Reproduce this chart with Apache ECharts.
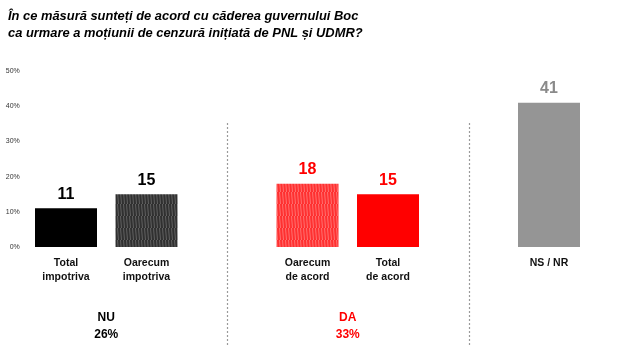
<!DOCTYPE html>
<html>
<head>
<meta charset="utf-8">
<script src="https://cdn.jsdelivr.net/npm/echarts@6/dist/echarts.min.js"></script>
<style>
  html, body { margin: 0; padding: 0; background: #fff; }
  #chart { width: 630px; height: 347px; }
</style>
</head>
<body>
<div id="chart"></div>
<script>
// Survey answers; empty slots keep the gaps between the answer groups
var categories = ['Total\nimpotriva', 'Oarecum\nimpotriva', '', 'Oarecum\nde acord', 'Total\nde acord', '', 'NS / NR'];
var values = [11, 15, null, 18, 15, null, 41];
var yTicks = [0, 10, 20, 30, 40, 50];

// Group totals printed under the bars
var groupNames = ['NU', 'DA'];
var groupTotals = [26, 33];

var titleLines = [
  'În ce măsură sunteți de acord cu căderea guvernului Boc',
  'ca urmare a moțiunii de cenzură inițiată de PNL și UDMR?'
];

function stripes(base, line) {
  var c = document.createElement('canvas');
  c.width = 6; c.height = 12;
  var g = c.getContext('2d');
  g.fillStyle = base;
  g.fillRect(0, 0, 6, 12);
  g.strokeStyle = line;
  g.lineWidth = 1;
  for (var x = -6; x <= 12; x += 3) {
    g.beginPath();
    g.moveTo(x + 0.5, 0);
    g.lineTo(x + 1.5, 12);
    g.stroke();
  }
  return { image: c, repeat: 'repeat' };
}

var barFill = [
  '#000000',
  stripes('#303030', '#616161'),
  null,
  stripes('#ff3030', '#ff7070'),
  '#ff0000',
  null,
  '#959595'
];
var labelColor = ['#000', '#000', null, '#ff0000', '#ff0000', null, '#8a8a8a'];

var chart = echarts.init(document.getElementById('chart'), null, { renderer: 'canvas' });

var option = {
  animation: false,
  backgroundColor: '#ffffff',
  title: {
    text: titleLines.join('\n'),
    left: 8,
    top: 8,
    padding: 0,
    textStyle: {
      fontFamily: 'Arial, Liberation Sans, sans-serif',
      fontSize: 12.9,
      fontWeight: 'bold',
      fontStyle: 'italic',
      color: '#000',
      lineHeight: 17
    }
  },
  grid: { left: 25.75, right: 40.75, top: 71, bottom: 100 },
  xAxis: {
    type: 'category',
    data: categories,
    axisLine: { show: false },
    axisTick: { show: false },
    axisLabel: {
      interval: 0,
      margin: 9,
      fontFamily: 'Arial, Liberation Sans, sans-serif',
      fontSize: 10.5,
      fontWeight: 'bold',
      color: '#111',
      lineHeight: 14
    }
  },
  yAxis: {
    type: 'value',
    min: 0,
    max: 50,
    interval: 10,
    splitLine: { show: false },
    axisLine: { show: false },
    axisTick: { show: false },
    axisLabel: {
      margin: 6,
      fontFamily: 'Arial, Liberation Sans, sans-serif',
      fontSize: 7,
      color: '#333',
      formatter: function (v) { return yTicks.indexOf(v) >= 0 ? v + '%' : ''; }
    }
  },
  series: [{
    type: 'bar',
    barWidth: 62,
    data: values.map(function (v, i) {
      return {
        value: v,
        itemStyle: { color: barFill[i] || '#000' },
        label: { color: labelColor[i] || '#000' }
      };
    }),
    label: {
      show: true,
      position: 'top',
      distance: 6,
      fontFamily: 'Arial, Liberation Sans, sans-serif',
      fontSize: 16,
      fontWeight: 'bold'
    }
  }]
};

chart.setOption(option);

// Dashed separators in the empty slots and group totals under each pair
var sepTop = 123, sepBottom = 347;
var graphics = [];
[2, 5].forEach(function (idx) {
  var x = Math.round(chart.convertToPixel({ xAxisIndex: 0 }, idx)) + 0.5;
  graphics.push({
    type: 'line',
    shape: { x1: x, y1: sepTop, x2: x, y2: sepBottom },
    style: { stroke: '#9a9a9a', lineWidth: 1.2, lineDash: [2, 2] },
    silent: true
  });
});
var groupColors = ['#000', '#ff0000'];
[[0, 1], [3, 4]].forEach(function (pair, k) {
  var x = (chart.convertToPixel({ xAxisIndex: 0 }, pair[0]) +
           chart.convertToPixel({ xAxisIndex: 0 }, pair[1])) / 2;
  graphics.push({
    type: 'text',
    x: x,
    y: 326.5,
    style: {
      text: groupNames[k] + '\n' + groupTotals[k] + '%',
      align: 'center',
      verticalAlign: 'middle',
      fontFamily: 'Arial, Liberation Sans, sans-serif',
      fontSize: 12,
      fontWeight: 'bold',
      lineHeight: 17,
      fill: groupColors[k]
    },
    silent: true
  });
});
chart.setOption({ graphic: graphics });
</script>
</body>
</html>
